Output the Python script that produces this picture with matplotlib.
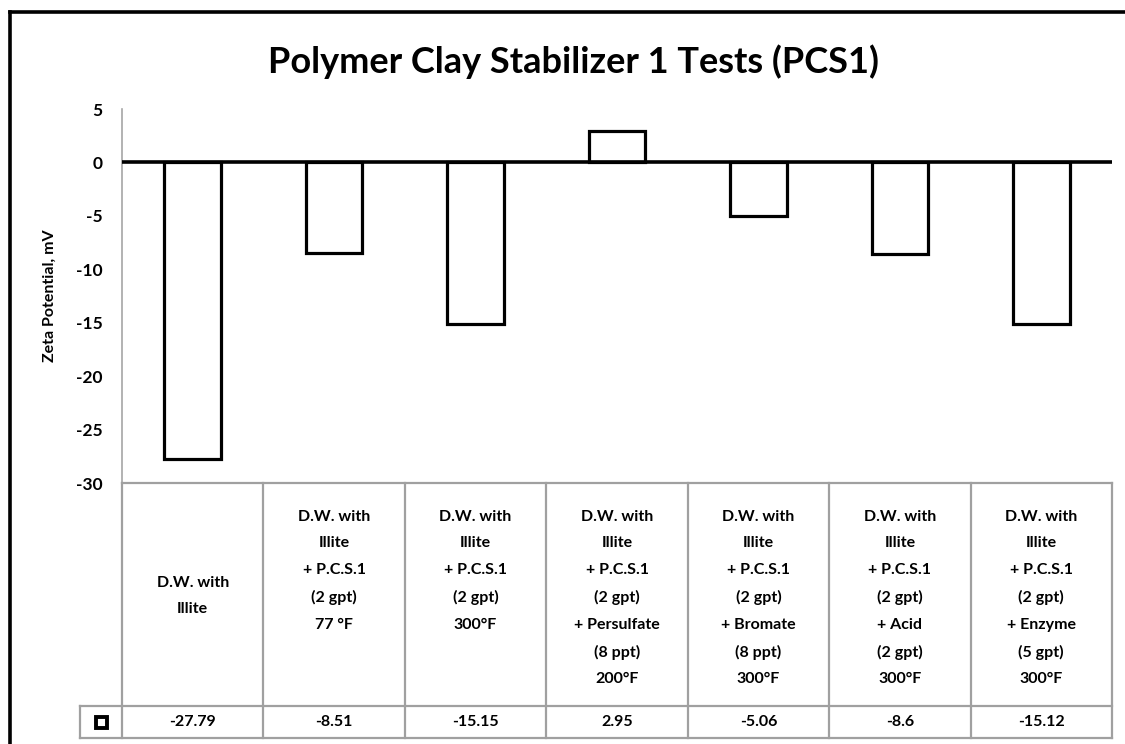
import matplotlib.pyplot as plt
from matplotlib.lines import Line2D
from matplotlib.patches import Rectangle

# data
categories = [
    "D.W. with\nIllite",
    "D.W. with\nIllite\n+ P.C.S.1\n(2 gpt)\n77 °F",
    "D.W. with\nIllite\n+ P.C.S.1\n(2 gpt)\n300°F",
    "D.W. with\nIllite\n+ P.C.S.1\n(2 gpt)\n+ Persulfate\n(8 ppt)\n200°F",
    "D.W. with\nIllite\n+ P.C.S.1\n(2 gpt)\n+ Bromate\n(8 ppt)\n300°F",
    "D.W. with\nIllite\n+ P.C.S.1\n(2 gpt)\n+ Acid\n(2 gpt)\n300°F",
    "D.W. with\nIllite\n+ P.C.S.1\n(2 gpt)\n+ Enzyme\n(5 gpt)\n300°F",
]
zeta = [-27.79, -8.51, -15.15, 2.95, -5.06, -8.6, -15.12]
yticks = [5, 0, -5, -10, -15, -20, -25, -30]

plt.rcParams['font.family'] = ['Lato', 'DejaVu Sans']
plt.rcParams['font.weight'] = 'bold'

W, H = 1125, 744
fig = plt.figure(figsize=(W / 100, H / 100), dpi=100)

def fx(px):
    return px / W

def fy(py):
    return 1 - py / H

# plot area
left, right, top, bot = 122, 1112, 109, 483
ax = fig.add_axes([fx(left), fy(bot), fx(right - left), fy(top) - fy(bot)])
x = list(range(len(zeta)))
ax.bar(x, zeta, width=0.4, facecolor='white', edgecolor='black', linewidth=2.3, zorder=2)
ax.axhline(0, color='black', linewidth=2.6, zorder=3)
ax.set_xlim(-0.5, len(zeta) - 0.5)
ax.set_ylim(-30, 5)
ax.set_yticks(yticks)
ax.set_yticklabels([str(t) for t in yticks], fontsize=12.5, fontweight='bold')
ax.set_xticks([])
ax.tick_params(axis='y', length=0, pad=14)
for s in ['top', 'right', 'bottom']:
    ax.spines[s].set_visible(False)
ax.spines['left'].set_color('#a6a6a6')
ax.spines['left'].set_linewidth(1.2)
ax.set_ylabel("Zeta Potential, mV", fontsize=11.5, fontweight='bold', labelpad=14)

fig.suptitle("Polymer Clay Stabilizer 1 Tests (PCS1)", x=fx(573), y=fy(62),
             fontsize=26, fontweight='bold', va='center')

# data table below the plot area
tbot = 738
rowsplit = 706
tab = fig.add_axes([fx(left), fy(tbot), fx(right - left), fy(bot) - fy(tbot)])
tab.set_xlim(-0.5, len(zeta) - 0.5)
tab.set_ylim(tbot, bot)
tab.axis('off')
grey = '#a0a0a0'
colw = (right - left) / len(zeta)
keyl = -0.5 - (left - 80) / colw
for b in range(len(zeta) + 1):
    tab.plot([b - 0.5, b - 0.5], [bot, tbot], color=grey, lw=1.6, clip_on=False)
tab.plot([-0.5, len(zeta) - 0.5], [bot, bot], color=grey, lw=1.6, clip_on=False)
tab.plot([keyl, len(zeta) - 0.5], [rowsplit, rowsplit], color=grey, lw=1.6, clip_on=False)
tab.plot([keyl, len(zeta) - 0.5], [tbot, tbot], color=grey, lw=1.6, clip_on=False)
tab.plot([keyl, keyl], [rowsplit, tbot], color=grey, lw=1.6, clip_on=False)
for i, (c, v) in enumerate(zip(categories, zeta)):
    if c.count("\n") < 2:
        tab.text(i, 596, c, ha='center', va='center', fontsize=11.5,
                 fontweight='bold', linespacing=2.12)
    else:
        tab.text(i, 510, c, ha='center', va='top', fontsize=11.5,
                 fontweight='bold', linespacing=2.12)
    tab.text(i, (rowsplit + tbot) / 2, str(v), ha='center', va='center', fontsize=11.5,
             fontweight='bold')
kx = keyl + (-0.5 - keyl) / 2
kw = 11 / colw
tab.add_patch(Rectangle((kx - kw / 2, (rowsplit + tbot) / 2 - 5.5), kw, 11,
                        facecolor='white', edgecolor='black', lw=2.8, clip_on=False))

# outer chart border
fig.add_artist(Line2D([fx(10), fx(10)], [0, fy(12)], color='black', lw=2.6))
fig.add_artist(Line2D([fx(10), 1], [fy(12), fy(12)], color='black', lw=2.6))

fig.savefig('out.png', dpi=100)
